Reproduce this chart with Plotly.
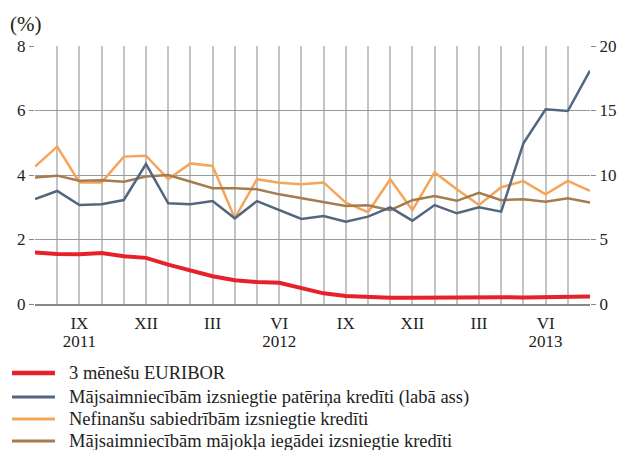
import plotly.graph_objects as go

months = list(range(26))  # Jul 2011 .. Aug 2013
tick_vals = list(range(26))
tick_labels = ["", "", "IX", "", "", "XII", "", "", "III", "", "", "VI", "", "",
               "IX", "", "", "XII", "", "", "III", "", "", "VI", "", ""]
year_vals = [2, 11, 23]
year_labels = ["2011", "2012", "2013"]

euribor = [1.60, 1.55, 1.54, 1.58, 1.48, 1.43, 1.22, 1.05, 0.86, 0.74, 0.68, 0.66, 0.50,
           0.33, 0.25, 0.21, 0.19, 0.19, 0.20, 0.22, 0.21, 0.21, 0.20, 0.21, 0.22, 0.23]
consumer = [8.14, 8.76, 7.67, 7.73, 8.06, 10.85, 7.81, 7.73, 7.98, 6.64, 7.98, 7.29, 6.59,
            6.82, 6.38, 6.77, 7.49, 6.46, 7.67, 7.03, 7.49, 7.16, 12.46, 15.09, 14.96, 18.09]
nonfin = [4.26, 4.88, 3.77, 3.77, 4.57, 4.60, 3.87, 4.36, 4.28, 2.66, 3.87, 3.76, 3.71,
          3.77, 3.14, 2.85, 3.87, 2.91, 4.08, 3.56, 3.07, 3.62, 3.81, 3.40, 3.82, 3.51]
housing = [3.92, 3.98, 3.82, 3.84, 3.79, 3.95, 4.00, 3.79, 3.59, 3.59, 3.56, 3.40, 3.28,
           3.14, 3.04, 3.06, 2.91, 3.22, 3.35, 3.20, 3.45, 3.22, 3.25, 3.17, 3.28, 3.15]

names = ["3 mēnešu EURIBOR",
         "Mājsaimniecībām izsniegtie patēriņa kredīti (labā ass)",
         "Nefinanšu sabiedrībām izsniegtie kredīti",
         "Mājsaimniecībām mājokļa iegādei izsniegtie kredīti"]
colors = ["#e8202a", "#52677f", "#f5a55a", "#a67c4e"]
widths = [4, 2.5, 2.5, 2.5]
series = [euribor, consumer, nonfin, housing]
axes = ["y", "y2", "y", "y"]

FONT = "Liberation Serif, Times New Roman, serif"
fig = go.Figure()
for name, vals, col, w, ax in zip(names, series, colors, widths, axes):
    fig.add_trace(go.Scatter(x=months, y=vals, name=name, mode="lines", yaxis=ax,
                             line=dict(color=col, width=w), showlegend=False))
# invisible trace to carry the year axis
fig.add_trace(go.Scatter(x=[0, 25], y=[0, 0], xaxis="x2", mode="lines",
                         line=dict(width=0), showlegend=False, hoverinfo="skip"))

# legend drawn below the plot (rows placed to match the original layout)
row_y = [-0.2674, -0.3605, -0.4457, -0.5310]
shapes = []
annotations = []
for name, col, w, yy in zip(names, colors, widths, row_y):
    shapes.append(dict(type="line", xref="paper", yref="paper", x0=-0.0414, x1=0.036,
                       y0=yy, y1=yy, line=dict(color=col, width=w + 0.5)))
    annotations.append(dict(text=name, xref="paper", yref="paper", x=0.0577, y=yy,
                            xanchor="left", yanchor="middle", showarrow=False,
                            font=dict(family=FONT, size=18.5, color="#222")))
annotations.append(dict(text="(%)", x=0, y=1, xref="paper", yref="paper", xshift=-27, yshift=8,
                        xanchor="left", yanchor="bottom", showarrow=False,
                        font=dict(family=FONT, size=21, color="#222")))

fig.update_layout(
    width=623, height=450,
    margin=dict(l=35, r=33, t=46, b=146, autoexpand=False),
    paper_bgcolor="white", plot_bgcolor="white",
    font=dict(family=FONT, size=17, color="#222"),
    showlegend=False,
    xaxis=dict(range=[0, 25], tickmode="array", tickvals=tick_vals, ticktext=tick_labels,
               showgrid=True, gridcolor="#c4c4c4", gridwidth=2,
               showline=True, linecolor="#888", linewidth=2, ticks="", zeroline=False,
               ticklabelstandoff=3, tickfont=dict(family=FONT, size=17)),
    xaxis2=dict(range=[0, 25], overlaying="x", side="bottom", anchor="y",
                tickmode="array", tickvals=year_vals, ticktext=year_labels,
                showgrid=False, showline=False, ticks="", zeroline=False,
                ticklabelstandoff=25, tickfont=dict(family=FONT, size=17)),
    yaxis=dict(range=[0, 8], dtick=2, showgrid=True, gridcolor="#9a9a9a", gridwidth=1,
               ticks="outside", ticklen=5, tickcolor="#888", zeroline=False,
               tickfont=dict(family=FONT, size=17)),
    yaxis2=dict(range=[0, 20], dtick=5, overlaying="y", side="right", showgrid=False,
                ticks="outside", ticklen=5, tickcolor="#888", zeroline=False,
                tickfont=dict(family=FONT, size=17)),
    shapes=shapes,
    annotations=annotations,
)

fig.write_html("out.html", config={"displayModeBar": False},
               post_script="document.body.style.margin='0';")
